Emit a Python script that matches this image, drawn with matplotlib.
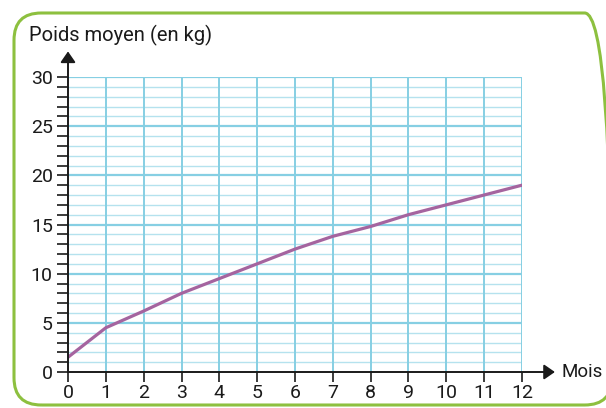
from matplotlib import pyplot as plt
from matplotlib.patches import FancyBboxPatch

# Data
mois = [0, 1, 2, 3, 4, 5, 6, 7, 8, 9, 10, 11, 12]
poids = [1.5, 4.5, 6.2, 8.0, 9.5, 11.0, 12.5, 13.8, 14.8, 16.0, 17.0, 18.0, 19.0]
x_labels = [str(m) for m in mois]
y_major = [0, 5, 10, 15, 20, 25, 30]

plt.rcParams['font.family'] = ['Roboto', 'DejaVu Sans']

fig = plt.figure(figsize=(6.06, 4.08), dpi=100)
ax = fig.add_axes([68 / 606, 36 / 408, 454 / 606, 295 / 408])
ax.set_xlim(0, 12)
ax.set_ylim(0, 30)

# grid: thin every 1 kg, thicker every 5 kg, vertical every month
for y in range(1, 31):
    if y % 5 == 0:
        ax.axhline(y, color='#86cfe3', lw=1.6, zorder=1)
    else:
        ax.axhline(y, color='#b5e2ee', lw=1.0, zorder=1)
for x in mois[1:]:
    ax.axvline(x, color='#86cfe3', lw=1.4, zorder=1)

# curve
ax.plot(mois, poids, color='#a5649f', lw=2.3, zorder=3, solid_capstyle='round')

# axes with arrows
for s in ax.spines.values():
    s.set_visible(False)
ax.annotate('', xy=(0, 32.6), xytext=(0, 0), xycoords='data',
            arrowprops=dict(arrowstyle='-|>,head_width=0.45,head_length=0.65',
                            color='#1a1a1a', lw=1.4, shrinkA=0, shrinkB=0),
            annotation_clip=False, zorder=4)
ax.annotate('', xy=(12.87, 0), xytext=(0, 0), xycoords='data',
            arrowprops=dict(arrowstyle='-|>,head_width=0.45,head_length=0.65',
                            color='#1a1a1a', lw=1.4, shrinkA=0, shrinkB=0),
            annotation_clip=False, zorder=4)

# ticks
ax.set_xticks(mois)
ax.set_xticklabels(x_labels)
ax.set_yticks(y_major)
ax.set_yticks(range(0, 31), minor=True)
ax.tick_params(axis='x', direction='out', length=7, width=1.2, color='#1a1a1a',
               labelsize=14, pad=2, labelcolor='#1a1a1a')
ax.tick_params(axis='y', which='both', direction='out', length=8, width=1.2,
               color='#1a1a1a', labelsize=14, pad=3, labelcolor='#1a1a1a')

ax.text(13.04, 0, 'Mois', fontsize=13.5, va='center', ha='left', color='#1a1a1a')
fig.text(29 / 606, 1 - 35 / 408, 'Poids moyen (en kg)', fontsize=14.5,
         va='center', ha='left', color='#1a1a1a')

# green rounded frame (right side runs off the picture)
frame = FancyBboxPatch((14 / 606, 3 / 408), 598 / 606, 392 / 408,
                       boxstyle='round,pad=0,rounding_size=0.045',
                       transform=fig.transFigure, fill=False,
                       edgecolor='#8dc03f', lw=2.2, clip_on=False,
                       mutation_aspect=606 / 408)
fig.patches.append(frame)

fig.savefig('out.png', dpi=100)
